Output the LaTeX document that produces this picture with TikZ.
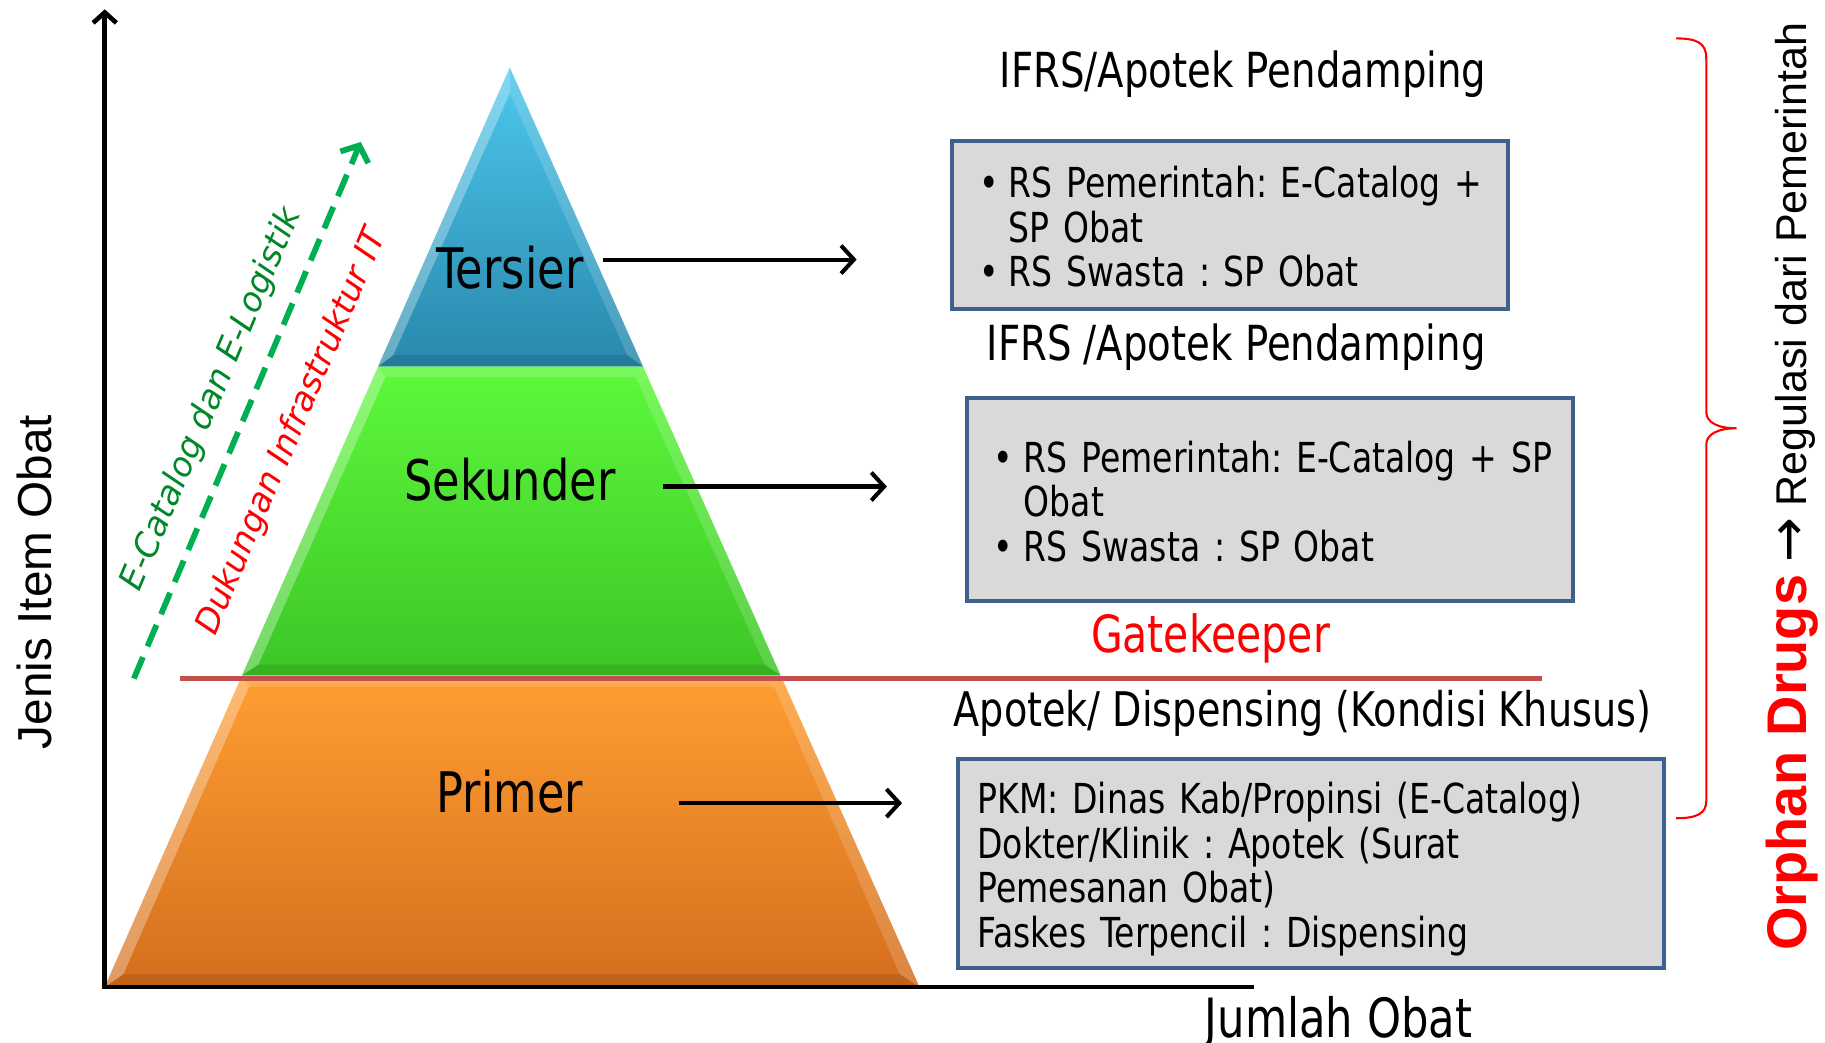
\documentclass[tikz,border=0pt]{standalone}
\usepackage{fontspec}
\usetikzlibrary{arrows.meta}
\newfontfamily\boxfont[FakeStretch=0.8]{DejaVu Sans}
\newfontfamily\axisfont{Liberation Sans}
\newfontfamily\slantfont{DejaVu Sans}
\newfontfamily\symfont{DejaVu Sans}
\frenchspacing

\definecolor{frameblue}{RGB}{61,96,142}
\definecolor{boxgray}{RGB}{217,217,217}
\definecolor{gateline}{RGB}{192,80,77}
\definecolor{dashgreen}{RGB}{0,176,80}
\definecolor{textgreen}{RGB}{0,135,40}
\definecolor{tertop}{RGB}{78,200,238}
\definecolor{terbot}{RGB}{40,136,172}
\definecolor{sektop}{RGB}{94,248,60}
\definecolor{sekbot}{RGB}{60,198,38}
\definecolor{pritop}{RGB}{255,158,50}
\definecolor{pribot}{RGB}{212,110,30}

\begin{document}
\begin{tikzpicture}[x=1pt,y=-1pt,
  infobox/.style={draw=frameblue, line width=3.5pt, fill=boxgray, align=left,
    anchor=north west, inner ysep=0pt, font=\boxfont\fontsize{35.5}{38}\selectfont},
  level/.style={inner sep=0pt, font=\boxfont\fontsize{48}{50}\selectfont},
  heading/.style={anchor=base, inner sep=0pt, font=\boxfont\fontsize{41.5}{44}\selectfont},
  pointer/.style={line width=3.5pt, -{Straight Barb[length=11pt, width=24pt]}},
  axisline/.style={line width=4pt, line cap=rect},
  litestrip/.style={fill=white, fill opacity=0.30},
  softstrip/.style={fill=white, fill opacity=0.16},
  darkstrip/.style={fill=black, fill opacity=0.10},
  slanted/.style={inner sep=0pt, rotate=67, font=\slantfont\itshape\fontsize{29}{31}\selectfont}
]
\useasboundingbox (0,0) rectangle (1568,896);

% ---------- pyramid corners ----------
\coordinate (A) at (438,58);
\coordinate (TL) at (324.8,315);  \coordinate (TR) at (552.5,315);
\coordinate (SL) at (208.1,580);  \coordinate (SR) at (670.6,580);
\coordinate (PL) at (90,848);     \coordinate (PR) at (790,848);
% inner bevel corners
\coordinate (Ai) at (438,80);
\coordinate (TLi) at (338,305);   \coordinate (TRi) at (539,305);
\coordinate (S1Li) at (331,324);  \coordinate (S1Ri) at (546,324);
\coordinate (S2Li) at (222,571);  \coordinate (S2Ri) at (657,571);
\coordinate (P1Li) at (214,590);  \coordinate (P1Ri) at (665,590);
\coordinate (P2Li) at (106,837);  \coordinate (P2Ri) at (773,837);

% Tersier band
\shade[top color=tertop, bottom color=terbot] (A) -- (TR) -- (TL) -- cycle;
\fill[litestrip] (A) -- (TL) -- (TLi) -- (Ai) -- cycle;
\fill[softstrip] (A) -- (TR) -- (TRi) -- (Ai) -- cycle;
\fill[darkstrip] (TL) -- (TR) -- (TRi) -- (TLi) -- cycle;

% Sekunder band
\shade[top color=sektop, bottom color=sekbot] (TL) -- (TR) -- (SR) -- (SL) -- cycle;
\fill[litestrip] (TL) -- (SL) -- (S2Li) -- (S1Li) -- cycle;
\fill[softstrip] (TR) -- (SR) -- (S2Ri) -- (S1Ri) -- cycle;
\fill[softstrip] (TL) -- (TR) -- (S1Ri) -- (S1Li) -- cycle;
\fill[darkstrip] (SL) -- (SR) -- (S2Ri) -- (S2Li) -- cycle;

% Primer band
\shade[top color=pritop, bottom color=pribot] (SL) -- (SR) -- (PR) -- (PL) -- cycle;
\fill[litestrip] (SL) -- (PL) -- (P2Li) -- (P1Li) -- cycle;
\fill[softstrip] (SR) -- (PR) -- (P2Ri) -- (P1Ri) -- cycle;
\fill[softstrip] (SL) -- (SR) -- (P1Ri) -- (P1Li) -- cycle;
\fill[darkstrip] (PL) -- (PR) -- (P2Ri) -- (P2Li) -- cycle;

% ---------- gatekeeper line ----------
\coordinate (gk0) at (155,583);
\coordinate (gk1) at (1325,583);
\draw[gateline, line width=4.5pt] (gk0) -- (gk1);

% ---------- axes ----------
\coordinate (O) at (90,848);
\coordinate (ytop) at (90,8);
\coordinate (xend) at (1075,848);
\draw[axisline, -{Straight Barb[length=9pt, width=20pt]}] (O) -- (ytop);
\draw[axisline] (O) -- (xend);

\node[rotate=90, inner sep=0pt, font=\axisfont\fontsize{41}{44}\selectfont] (ylab) at (30,500) {Jenis Item Obat};
\node[heading, font=\boxfont\fontsize{46.5}{48}\selectfont] (xlab) at (1150,891) {Jumlah Obat};

% ---------- rising dashed arrow with its captions ----------
\coordinate (g0) at (115,583);
\coordinate (g1) at (310,122);
\draw[dashgreen, line width=5pt, dash pattern=on 20pt off 10pt,
  -{Straight Barb[length=11pt, width=26pt]}] (g0) -- (g1);
\node[slanted, text=textgreen] (ecat) at (182,343) {E-Catalog dan E-Logistik};
\node[slanted, text=red] (infra) at (251,371) {Dukungan Infrastruktur IT};

% ---------- level labels ----------
\node[level] (ter) at (438,230) {Tersier};
\node[level] (sek) at (438,412) {Sekunder};
\node[level] (pri) at (438,680) {Primer};

\coordinate (terFrom) at (518,223);  \coordinate (terTo) at (736,223);
\coordinate (sekFrom) at (570,418);  \coordinate (sekTo) at (762,418);
\coordinate (priFrom) at (583,690);  \coordinate (priTo) at (775,690);
\draw[pointer] (terFrom) -- (terTo);
\draw[pointer] (sekFrom) -- (sekTo);
\draw[pointer] (priFrom) -- (priTo);

% ---------- right-hand descriptions ----------
\node[heading] (h1) at (1068,75) {IFRS/Apotek Pendamping};
\node[infobox, text width=430pt, inner xsep=24pt, minimum height=145pt] (box1) at (816,119)
  {\raisebox{-7pt}[\height][\depth]{\begin{tabular}{@{}l@{}l@{}}
   \makebox[25pt][l]{\textbullet}&RS Pemerintah: E-Catalog +\\
   &SP Obat\\
   \makebox[25pt][l]{\textbullet}&RS Swasta : SP Obat
   \end{tabular}}};

\node[heading] (h2) at (1062,310) {IFRS /Apotek Pendamping};
\node[infobox, text width=475pt, inner xsep=23pt, minimum height=175pt] (box2) at (829,340)
  {\raisebox{-7pt}[\height][\depth]{\begin{tabular}{@{}l@{}l@{}}
   \makebox[26pt][l]{\textbullet}&RS Pemerintah: E-Catalog + SP\\
   &Obat\\
   \makebox[26pt][l]{\textbullet}&RS Swasta : SP Obat
   \end{tabular}}};

\node[heading, text=red, font=\boxfont\fontsize{44}{46}\selectfont] (gk) at (1040,561) {Gatekeeper};
\node[heading, font=\boxfont\fontsize{41}{44}\selectfont] (h3) at (1119,624) {Apotek/ Dispensing (Kondisi Khusus)};

\node[infobox, text width=573pt, inner xsep=17pt, minimum height=180pt] (box3) at (821,650)
  {\raisebox{-7pt}[\height][\depth]{\begin{tabular}{@{}l@{}}
   PKM: Dinas Kab/Propinsi (E-Catalog)\\
   Dokter/Klinik : Apotek (Surat\\
   Pemesanan Obat)\\
   Faskes Terpencil : Dispensing
   \end{tabular}}};

% ---------- brace and vertical note ----------
\draw[red, line width=1.8pt]
  (1440,33) .. controls (1458,33) and (1466,37) .. (1466,50)
  -- (1466,354) .. controls (1466,363) and (1476,368) .. (1492,368)
  .. controls (1476,368) and (1466,373) .. (1466,382)
  -- (1466,688) .. controls (1466,699) and (1458,703) .. (1440,703);

\node[rotate=90, anchor=base, inner sep=0pt, font=\axisfont\fontsize{37}{40}\selectfont] (reg) at (1552,418)
  {{\color{red}\bfseries\fontsize{48}{50}\selectfont Orphan Drugs} {\symfont\fontsize{46}{48}\selectfont →} Regulasi dari Pemerintah};
\end{tikzpicture}
\end{document}
